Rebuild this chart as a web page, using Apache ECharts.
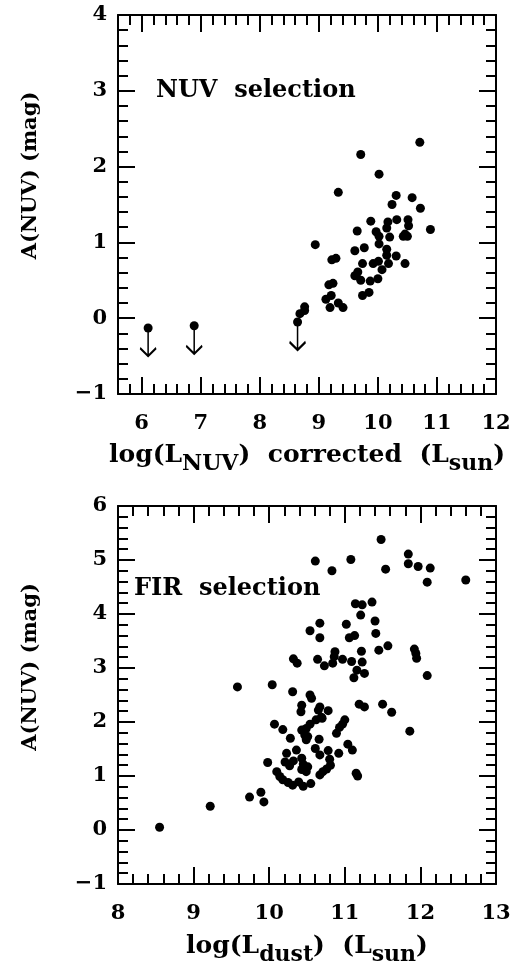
<!DOCTYPE html>
<html>
<head>
<meta charset="utf-8">
<script src="https://cdn.jsdelivr.net/npm/echarts@6/dist/echarts.min.js"></script>
<style>
  html, body { margin: 0; padding: 0; background: #fff; }
  #chart { width: 516px; height: 973px; }
</style>
</head>
<body>
<div id="chart"></div>
<script>
// NUV selected sample (top panel)
var nuvLogL = [10.71, 9.71, 10.02, 9.33, 10.31, 10.24, 10.58, 10.72, 9.88, 10.17,
  10.32, 10.51, 10.15, 10.52, 10.89, 9.65, 9.97, 10.02, 10.20, 10.46,
  10.43, 10.50, 10.02, 8.94, 9.77, 9.61, 10.15, 10.15, 10.31, 9.22,
  9.29, 9.74, 9.92, 10.01, 10.18, 10.46, 10.07, 9.66, 9.61, 9.71,
  9.87, 10.00, 9.24, 9.17, 9.85, 9.74, 9.21, 9.12, 9.19, 9.33,
  9.41, 8.76, 8.76, 8.68];
var nuvAnuv = [2.32, 2.16, 1.90, 1.66, 1.62, 1.50, 1.59, 1.45, 1.28, 1.27,
  1.30, 1.30, 1.19, 1.22, 1.17, 1.15, 1.14, 1.08, 1.07, 1.11,
  1.08, 1.08, 0.98, 0.97, 0.93, 0.89, 0.91, 0.83, 0.82, 0.77,
  0.79, 0.72, 0.72, 0.75, 0.72, 0.72, 0.64, 0.61, 0.56, 0.50,
  0.49, 0.52, 0.46, 0.44, 0.34, 0.30, 0.30, 0.25, 0.14, 0.20,
  0.14, 0.15, 0.10, 0.06];
// upper limits (dot + down arrow)
var nuvLimLogL = [6.11, 6.89, 8.64];
var nuvLimAnuv = [-0.13, -0.10, -0.05];

// FIR selected sample (bottom panel)
var firLogL = [11.48, 11.84, 10.61, 11.08, 10.83, 11.54, 11.84, 11.97, 12.13, 12.09, 12.60,
  11.14, 11.23, 11.36, 11.21, 11.40, 10.67, 11.02, 10.54, 11.41, 10.67, 11.06, 11.13,
  11.57, 11.45, 11.92, 11.94, 11.95, 11.22, 10.87, 10.32, 10.37, 10.64, 10.73, 10.84,
  10.86, 10.97, 11.09, 11.23, 11.16, 11.26, 11.12, 12.09,
  9.58, 10.04, 10.31, 10.54, 10.56, 10.43, 10.42, 10.67, 10.65, 10.78, 10.70, 11.19,
  11.26, 11.50, 11.62, 11.86,
  10.69, 10.62, 10.54, 10.49, 10.07, 10.18, 11.00, 10.97, 10.93, 10.43, 10.47, 10.51,
  10.49, 10.89, 10.28, 10.66, 10.36, 10.23, 10.61, 10.67, 10.78, 11.04, 11.10, 10.92, 9.98,
  10.21, 10.27, 10.32, 10.43, 10.45, 10.43, 10.49, 10.51,
  10.80, 10.81, 10.76, 10.71, 10.67,
  10.10, 10.14, 10.18, 10.25, 10.31, 10.39, 10.45, 10.55,
  11.15, 11.17, 9.74, 9.89, 9.93, 9.22, 8.55];
var firAnuv = [5.38, 5.11, 4.98, 5.01, 4.80, 4.83, 4.93, 4.88, 4.85, 4.59, 4.63,
  4.19, 4.17, 4.22, 3.98, 3.87, 3.83, 3.81, 3.69, 3.64, 3.56, 3.56, 3.60,
  3.41, 3.33, 3.35, 3.27, 3.18, 3.31, 3.30, 3.17, 3.09, 3.16, 3.04, 3.09,
  3.21, 3.16, 3.12, 3.11, 2.96, 2.90, 2.82, 2.86,
  2.65, 2.69, 2.56, 2.50, 2.44, 2.31, 2.19, 2.28, 2.22, 2.21, 2.07, 2.33,
  2.28, 2.33, 2.18, 1.83,
  2.09, 2.04, 1.96, 1.88, 1.96, 1.86, 2.04, 1.96, 1.90, 1.85, 1.76, 1.73,
  1.67, 1.79, 1.70, 1.68, 1.48, 1.42, 1.51, 1.39, 1.47, 1.59, 1.48, 1.42, 1.25,
  1.26, 1.19, 1.28, 1.33, 1.22, 1.12, 1.08, 1.17,
  1.31, 1.20, 1.13, 1.08, 1.02,
  1.08, 0.99, 0.93, 0.88, 0.83, 0.89, 0.81, 0.86,
  1.05, 1.00, 0.61, 0.70, 0.52, 0.44, 0.05];

// axis ranges and labelled ticks
var nuvXRange = [5.6, 12];
var nuvYRange = [-1, 4];
var firXRange = [8, 13];
var firYRange = [-1, 6];
var nuvXTicks = [6, 7, 8, 9, 10, 11, 12];
var nuvYTicks = [-1, 0, 1, 2, 3, 4];
var firXTicks = [8, 9, 10, 11, 12, 13];
var firYTicks = [-1, 0, 1, 2, 3, 4, 5, 6];

var FONT = "'DejaVu Serif', serif";
var INK = '#000';

function zip(xs, ys) {
  return xs.map(function (x, i) { return [x, ys[i]]; });
}

// minor ticks every 0.2
function stepTicks(range, step) {
  var out = [];
  for (var i = 0; ; i++) {
    var v = Math.round((range[0] + i * step) * 1000) / 1000;
    if (v > range[1] + 1e-9) break;
    out.push(v);
  }
  return out;
}

function fmt(v) {
  return String(v).replace('-', '\u2212');
}

// subscripts: tokens sit on the line bottom, normal text is lifted by its bottom padding
var titleRich = {
  n: { fontFamily: FONT, fontWeight: 'bold', fontSize: 25, color: INK, lineHeight: 30, verticalAlign: 'bottom', padding: [0, 0, 7, 0] },
  s: { fontFamily: FONT, fontWeight: 'bold', fontSize: 22, color: INK, lineHeight: 30, verticalAlign: 'bottom' }
};

// 4 axes per side pair: labelled major, minor, mirrored major, mirrored minor
function makeAxes(dim, grid, range, majors, name, nameGap, namePad) {
  var minors = stepTicks(range, 0.2);
  var sides = dim === 'x' ? ['bottom', 'top'] : ['left', 'right'];
  var list = [];
  sides.forEach(function (side, k) {
    [majors, minors].forEach(function (vals, m) {
      var ax = {
        type: 'value',
        gridIndex: grid,
        position: side,
        min: range[0],
        max: range[1],
        splitLine: { show: false },
        axisLine: { show: m === 0, onZero: false, lineStyle: { color: INK, width: 2 } },
        axisTick: {
          show: true, inside: true, length: m === 0 ? 17 : 10,
          customValues: vals,
          lineStyle: { color: INK, width: 2 }
        },
        axisLabel: { show: false }
      };
      if (k === 0 && m === 0) {
        ax.axisLabel = {
          show: true, customValues: majors, formatter: fmt,
          color: INK, fontFamily: FONT, fontWeight: 'bold', fontSize: 21,
          margin: dim === 'x' ? 19 : 11
        };
        ax.name = name;
        ax.nameLocation = 'middle';
        ax.nameGap = nameGap;
        ax.nameTextStyle = { color: INK, fontFamily: FONT, fontWeight: 'bold', fontSize: 21, rich: titleRich, padding: namePad };
      }
      list.push(ax);
    });
  });
  return list;
}

var xAxes = makeAxes('x', 0, nuvXRange, nuvXTicks,
  '{n|log(L}{s|NUV}{n|)  corrected  (L}{s|sun}{n|)}', 51, 0)
  .concat(makeAxes('x', 1, firXRange, firXTicks,
  '{n|log(L}{s|dust}{n|)  (L}{s|sun}{n|)}', 52, 0));
var yAxes = makeAxes('y', 0, nuvYRange, nuvYTicks, 'A(NUV) (mag)', 77, [0, 0, 0, 58])
  .concat(makeAxes('y', 1, firYRange, firYTicks, 'A(NUV) (mag)', 77, [0, 0, 0, 56]));

var arrowPath = 'path://M8 0 L8 28 M1 20 L8 28 L15 20';

var chart = echarts.init(document.getElementById('chart'), null, { renderer: 'canvas' });
chart.setOption({
  animation: false,
  backgroundColor: '#fff',
  grid: [
    { left: 118, top: 15, width: 378, height: 379 },
    { left: 118, top: 506, width: 378, height: 378 }
  ],
  xAxis: xAxes,
  yAxis: yAxes,
  graphic: [
    { type: 'text', x: 156, y: 91, z: 10,
      style: { text: 'NUV  selection', fill: INK, font: 'bold 24px ' + FONT, verticalAlign: 'middle' } },
    { type: 'text', x: 134, y: 589, z: 10,
      style: { text: 'FIR  selection', fill: INK, font: 'bold 24px ' + FONT, verticalAlign: 'middle' } }
  ],
  series: [
    {
      type: 'scatter', xAxisIndex: 0, yAxisIndex: 0,
      symbol: arrowPath, symbolSize: [16, 28], symbolOffset: [0, 14],
      itemStyle: { color: 'rgba(0,0,0,0)', borderColor: INK, borderWidth: 2, opacity: 1 },
      data: zip(nuvLimLogL, nuvLimAnuv), silent: true
    },
    {
      type: 'scatter', xAxisIndex: 0, yAxisIndex: 0,
      symbol: 'circle', symbolSize: 9, itemStyle: { color: INK, opacity: 1 },
      data: zip(nuvLogL, nuvAnuv).concat(zip(nuvLimLogL, nuvLimAnuv))
    },
    {
      type: 'scatter', xAxisIndex: 4, yAxisIndex: 4,
      symbol: 'circle', symbolSize: 9, itemStyle: { color: INK, opacity: 1 },
      data: zip(firLogL, firAnuv)
    }
  ]
});
</script>
</body>
</html>
